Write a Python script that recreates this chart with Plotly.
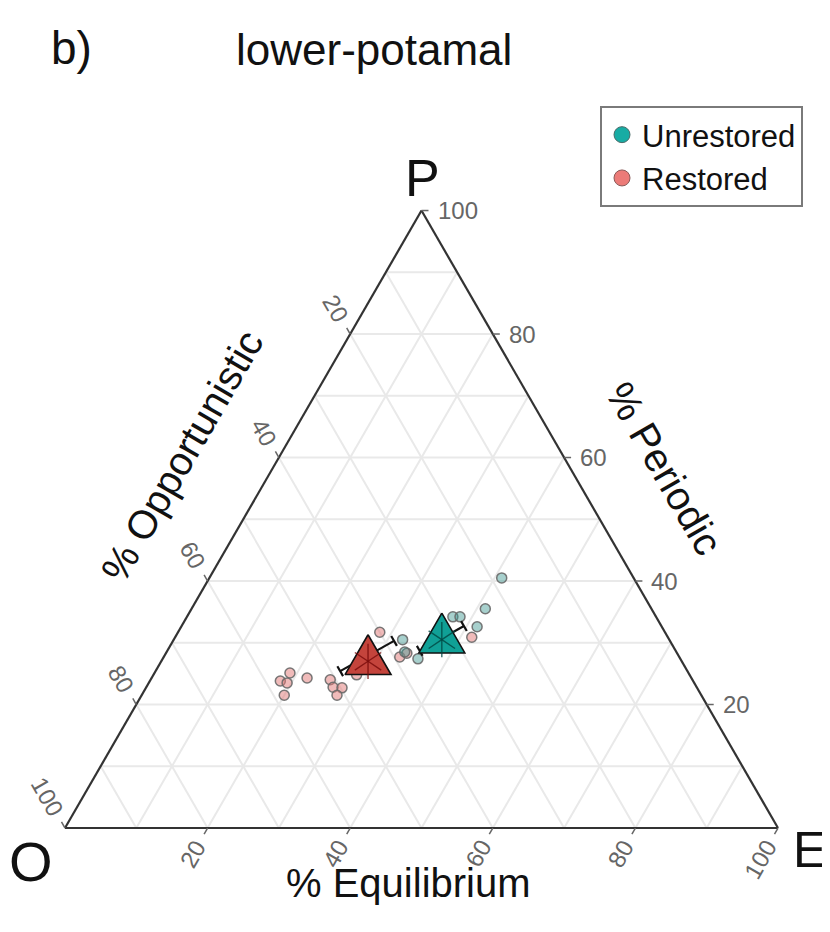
import math
import plotly.graph_objects as go

# ---------------- data (percent) ----------------
groups = ["Unrestored", "Restored"]

unres_P = [30.5, 27.4, 28.5, 34.2, 34.2, 32.6, 35.5, 40.5]
unres_O = [37.4, 36.8, 38.1, 28.5, 27.5, 25.9, 23.3, 18.5]
unres_E = [32.1, 35.8, 33.4, 37.3, 38.3, 41.5, 41.2, 41.0]

res_P = [31.7, 27.7, 28.3, 30.9, 24.8, 24.0, 22.8, 22.7, 21.5, 24.3, 25.1, 23.8, 23.5, 21.5]
res_O = [40.0, 39.2, 37.9, 27.5, 46.7, 50.8, 51.0, 49.8, 51.1, 53.9, 55.9, 57.9, 57.1, 58.5]
res_E = [28.3, 33.1, 33.8, 41.6, 28.5, 25.2, 26.2, 27.5, 27.4, 21.8, 19.0, 18.3, 19.4, 20.0]

# group means
mean_P = [30.5, 27.0]
mean_O = [31.9, 44.0]
mean_E = [37.6, 29.0]

# error bar ends (low end, high end)
err_lo_P = [28.7, 25.4]
err_lo_O = [35.9, 48.7]
err_lo_E = [35.4, 25.9]
err_hi_P = [32.7, 30.3]
err_hi_O = [27.7, 38.7]
err_hi_E = [39.6, 31.0]

tick_vals = [20, 40, 60, 80, 100]
grid_vals = [10, 20, 30, 40, 50, 60, 70, 80, 90]

# ---------------- styling ----------------
OFF = 8                      # page body margin of the html page
W, H = 830 - OFF, 932 - OFF
FONT = "Liberation Sans, Arial, Helvetica, sans-serif"
TEAL = "#17aca4"
PINK = "#ec7b78"
TEAL_DARK = "#10a096"
RED_DARK = "#c4443c"

# triangle geometry in window pixels
TL, TR, TB = 65.0, 778.0, 828.0
SIDE = TR - TL
HGT = SIDE * math.sqrt(3) / 2
TT = TB - HGT


def px(P, E):
    """ternary (percent) -> window pixel"""
    x = TL + SIDE * (E / 100.0 + P / 200.0)
    y = TB - HGT * P / 100.0
    return x, y


def paper(x, y):
    return (x - OFF) / W, 1 - (y - OFF) / H


fig = go.Figure()

# small points
pt_style = dict(size=10, line=dict(color="rgba(105,105,105,0.9)", width=1.5))
fig.add_trace(go.Scatterternary(
    a=res_P, b=res_O, c=res_E, mode="markers", showlegend=False,
    marker=dict(color="rgba(226,120,118,0.5)", **pt_style), hoverinfo="skip"))
fig.add_trace(go.Scatterternary(
    a=unres_P, b=unres_O, c=unres_E, mode="markers", showlegend=False,
    marker=dict(color="rgba(60,150,145,0.45)", **pt_style), hoverinfo="skip"))

# error bars with caps (cap along constant-O direction)
CAP = 0.8
for i in range(len(groups)):
    fig.add_trace(go.Scatterternary(
        a=[err_lo_P[i], err_hi_P[i]], b=[err_lo_O[i], err_hi_O[i]],
        c=[err_lo_E[i], err_hi_E[i]], mode="lines", showlegend=False,
        line=dict(color="#111111", width=2.2), hoverinfo="skip"))
    for (p, o, e) in [(err_lo_P[i], err_lo_O[i], err_lo_E[i]),
                      (err_hi_P[i], err_hi_O[i], err_hi_E[i])]:
        fig.add_trace(go.Scatterternary(
            a=[p + CAP, p - CAP], b=[o, o], c=[e - CAP, e + CAP],
            mode="lines", showlegend=False,
            line=dict(color="#111111", width=2.2), hoverinfo="skip"))

# mean triangles (equilateral, in ternary units)
D = 2.15
fills = [TEAL_DARK, RED_DARK]
inner = ["rgba(0,70,65,0.8)", "rgba(120,10,10,0.8)"]
for i in range(len(groups)):
    p, o, e = mean_P[i], mean_O[i], mean_E[i]
    fig.add_trace(go.Scatterternary(
        a=[p + 2 * D, p - D, p - D, p + 2 * D],
        b=[o - D, o + 2 * D, o - D, o - D],
        c=[e - D, e - D, e + 2 * D, e - D],
        mode="lines", fill="toself", fillcolor=fills[i],
        line=dict(color="#111111", width=1.6), showlegend=False, hoverinfo="skip"))
    for sym in ["y-up-open", "y-down-open"]:
        fig.add_trace(go.Scatterternary(
            a=[p], b=[o], c=[e], mode="markers", showlegend=False,
            marker=dict(symbol=sym, size=22, color=inner[i],
                        line=dict(width=1.4)),
            hoverinfo="skip"))

# legend entries
fig.add_trace(go.Scatterternary(
    a=[None], b=[None], c=[None], mode="markers", name="Unrestored",
    marker=dict(size=16, color=TEAL, line=dict(color="#4a6a68", width=1))))
fig.add_trace(go.Scatterternary(
    a=[None], b=[None], c=[None], mode="markers", name="Restored",
    marker=dict(size=16, color=PINK, line=dict(color="#8a5a58", width=1))))

axis_common = dict(
    min=0, tickmode="array", tickvals=grid_vals, showticklabels=False, ticks="",
    showgrid=True, gridcolor="#e9e9e9", gridwidth=1.6,
    showline=True, linecolor="#333333", linewidth=2.2, title=dict(text=""),
)

x0, y0 = paper(TL, TB)
x1, y1 = paper(TR, TT)
lx, ly = paper(600, 106)
fig.update_layout(
    width=W, height=H,
    margin=dict(l=0, r=0, t=0, b=0),
    paper_bgcolor="white",
    font=dict(family=FONT, color="#111111"),
    ternary=dict(
        sum=100, bgcolor="white",
        domain=dict(x=[x0, x1], y=[y0, y1]),
        aaxis=axis_common, baxis=axis_common, caxis=axis_common,
    ),
    showlegend=True,
    legend=dict(
        x=lx, y=ly, xanchor="left", yanchor="top",
        bgcolor="white", bordercolor="#7a7a7a", borderwidth=2,
        font=dict(size=31, family=FONT, color="#111111"),
        itemsizing="trace", tracegroupgap=0,
    ),
)

ann = []
shapes = []
TICK_FONT = 24
TICK_COL = "#666666"


def add_tick(x, y, dx, dy, label, angle):
    xa, ya = paper(x, y)
    xb, yb = paper(x + dx * 7, y + dy * 7)
    shapes.append(dict(type="line", xref="paper", yref="paper",
                       x0=xa, y0=ya, x1=xb, y1=yb,
                       line=dict(color=TICK_COL, width=1.5)))
    half = len(label) * 0.556 * TICK_FONT / 2
    d = 16 + half
    cx, cy = paper(x + dx * d, y + dy * d)
    ann.append(dict(x=cx, y=cy, xref="paper", yref="paper", text=label,
                    showarrow=False, textangle=angle, xanchor="center",
                    yanchor="middle", font=dict(size=TICK_FONT, color=TICK_COL)))


s3 = math.sqrt(3) / 2
for v in tick_vals:
    # Periodic on right edge (constant P lines extend to the right)
    x, y = px(v, 100 - v)
    add_tick(x, y, 1.0, 0.0, str(v), 0)
    # Opportunistic on left edge (O=v, E=0)
    x, y = px(100 - v, 0)
    add_tick(x, y, -0.5, -s3, str(v), 60)
    # Equilibrium on bottom edge (E=v, P=0)
    x, y = px(0, v)
    add_tick(x, y, -0.5, s3, str(v), -60)


def text_ann(x, y, text, size, angle=0, color="#111111"):
    cx, cy = paper(x, y)
    ann.append(dict(x=cx, y=cy, xref="paper", yref="paper", text=text,
                    showarrow=False, textangle=angle, xanchor="center",
                    yanchor="middle", font=dict(size=size, color=color, family=FONT)))


# titles and axis names
text_ann(374, 49, "lower-potamal", 44)
text_ann(71, 48, "b)", 46)
text_ann(182, 456, "% Opportunistic", 40, -60)
text_ann(664, 468, "% Periodic", 40, 60)
text_ann(408, 883, "% Equilibrium", 40, 0)
# vertex letters
text_ann(422, 178, "P", 52)
text_ann(31, 861, "O", 56)
text_ann(809, 850, "E", 50)

fig.update_layout(annotations=ann, shapes=shapes)
fig.write_html("out.html")
